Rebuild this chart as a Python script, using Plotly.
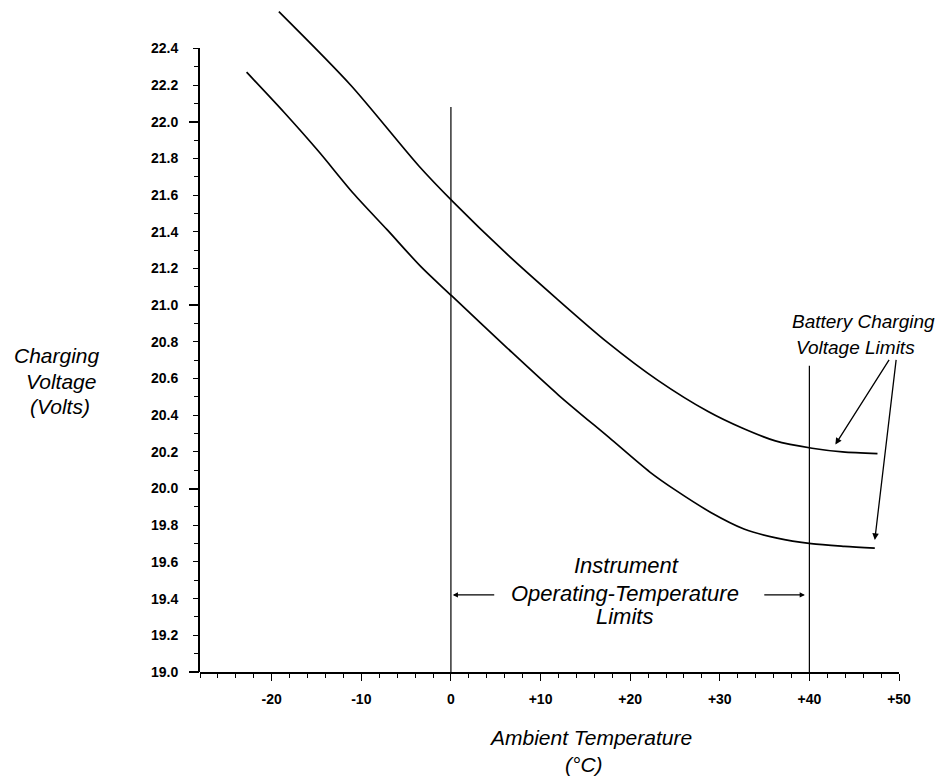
import plotly.graph_objects as go

# ---- data ----
temp_upper = [-19.2, -11.2, -3.6, 0.3, 6.0, 11.7, 17.4, 23.1, 28.7, 32.5, 36.2, 40.3, 43.7, 47.6]
volt_upper = [22.60, 22.20, 21.76, 21.56, 21.29, 21.04, 20.80, 20.59, 20.42, 20.33, 20.26, 20.22, 20.20, 20.19]

temp_lower = [-22.8, -18.6, -14.8, -10.9, -7.1, -3.35, 0.1, 6.2, 12.0, 17.6, 22.2, 25.1, 29.0, 32.7, 36.4, 40.2, 43.9, 47.3]
volt_lower = [22.27, 22.05, 21.84, 21.61, 21.41, 21.21, 21.05, 20.77, 20.51, 20.28, 20.09, 19.99, 19.87, 19.78, 19.73, 19.70, 19.685, 19.675]

op_limits_temp = [0, 40]
op_limits_top = [22.08, 20.67]

x_tick_vals = [-20, -10, 0, 10, 20, 30, 40, 50]
x_tick_text = ["-20", "-10", "0", "+10", "+20", "+30", "+40", "+50"]
y_tick_vals = [19.0, 19.2, 19.4, 19.6, 19.8, 20.0, 20.2, 20.4, 20.6, 20.8, 21.0,
               21.2, 21.4, 21.6, 21.8, 22.0, 22.2, 22.4]
y_tick_text = ["19.0", "19.2", "19.4", "19.6", "19.8", "20.0", "20.2", "20.4", "20.6", "20.8", "21.0",
               "21.2", "21.4", "21.6", "21.8", "22.0", "22.2", "22.4"]
y_minor_vals = [19.1, 19.3, 19.5, 19.7, 19.9, 20.1, 20.3, 20.5, 20.7, 20.9, 21.1,
                21.3, 21.5, 21.7, 21.9, 22.1, 22.3]
y_long_ticks = [19.0, 20.0, 21.0, 22.0]

X_MIN, X_MAX = -28, 50
Y_MIN, Y_AXIS_TOP, Y_MAX = 19.0, 22.4, 22.62

# ---- layout geometry (page has an 8px body margin) ----
OFF = 8
W, H = 944, 775
L, R, T, B = 192, 53, 0, 111
PW, PH = W - L - R, H - T - B


def px_x(p):
    return (p - OFF - L) / PW


def px_y(p):
    return (H - B - (p - OFF)) / PH


FONT = "Liberation Sans, Arial, Helvetica, sans-serif"

fig = go.Figure()

fig.add_trace(go.Scatter(x=temp_upper, y=volt_upper, mode="lines",
                         line=dict(color="black", width=1.7, shape="spline", smoothing=0.8),
                         hoverinfo="skip", showlegend=False))
fig.add_trace(go.Scatter(x=temp_lower, y=volt_lower, mode="lines",
                         line=dict(color="black", width=1.7, shape="spline", smoothing=0.8),
                         hoverinfo="skip", showlegend=False))

for t, top in zip(op_limits_temp, op_limits_top):
    fig.add_trace(go.Scatter(x=[t, t], y=[Y_MIN, top], mode="lines",
                             line=dict(color="black", width=1.2),
                             hoverinfo="skip", showlegend=False))

# empty trace so the labelled axis (y2) gets drawn
fig.add_trace(go.Scatter(x=[None], y=[None], yaxis="y2", mode="lines",
                         hoverinfo="skip", showlegend=False))

annotations = []


def txt(text, x, y, size, xref="x", yref="y"):
    annotations.append(dict(text="<i>" + text + "</i>", x=x, y=y, xref=xref, yref=yref,
                            showarrow=False, xanchor="center", yanchor="middle",
                            font=dict(family=FONT, size=size, color="black")))


# left axis label
txt("Charging", px_x(57), px_y(355), 21, "paper", "paper")
txt("Voltage", px_x(61), px_y(381), 21, "paper", "paper")
txt("(Volts)", px_x(60), px_y(406), 21, "paper", "paper")
# bottom axis label
txt("Ambient Temperature", px_x(590), px_y(738), 21, "paper", "paper")
txt("(°C)", px_x(584), px_y(764), 21, "paper", "paper")
# battery label
txt("Battery Charging", 46.0, 20.91, 19)
txt("Voltage Limits", 45.1, 20.77, 19)
# instrument label
txt("Instrument", 19.6, 19.58, 22)
txt("Operating-Temperature", 19.4, 19.43, 22)
txt("Limits", 19.4, 19.30, 22)


def arrow(x_head, y_head, x_tail, y_tail, size=1.0, head=2):
    annotations.append(dict(x=x_head, y=y_head, ax=x_tail, ay=y_tail,
                            xref="x", yref="y", axref="x", ayref="y", text="",
                            showarrow=True, arrowhead=head, arrowsize=size,
                            arrowwidth=1.3, arrowcolor="black"))


arrow(42.9, 20.24, 49.0, 20.71)
arrow(47.3, 19.72, 49.7, 20.71)
arrow(0.2, 19.42, 5.0, 19.42, size=0.8)
arrow(39.5, 19.42, 34.8, 19.42, size=0.8)

tick_font = dict(family=FONT, size=14, color="black", weight="bold")

fig.update_layout(
    width=W, height=H,
    margin=dict(l=L, r=R, t=T, b=B, autoexpand=False),
    paper_bgcolor="white", plot_bgcolor="rgba(0,0,0,0)",
    annotations=annotations,
    font=dict(family=FONT, color="black"),
    xaxis=dict(range=[X_MIN, X_MAX], showgrid=False, zeroline=False, automargin=False,
               showline=True, linecolor="black", linewidth=1.8, anchor="y",
               tickmode="array", tickvals=x_tick_vals, ticktext=x_tick_text,
               ticks="outside", ticklen=7, tickwidth=1.4, tickcolor="black",
               ticklabelstandoff=6, tickfont=tick_font,
               minor=dict(dtick=2, tick0=0, ticks="outside", ticklen=4, tickwidth=1.2,
                          tickcolor="black", showgrid=False)),
    # data axis: full height so the upper curve can rise above the 22.4 tick;
    # it only carries the long whole-volt ticks
    yaxis=dict(range=[Y_MIN, Y_MAX], domain=[0, 1], showgrid=False, zeroline=False,
               showline=False, anchor="x", automargin=False,
               tickmode="array", tickvals=y_long_ticks, showticklabels=False,
               ticks="outside", ticklen=10, tickwidth=1.5, tickcolor="black"),
    # labelled axis: same scale, ends at the 22.4 tick
    yaxis2=dict(range=[Y_MIN, Y_AXIS_TOP],
                domain=[0, (Y_AXIS_TOP - Y_MIN) / (Y_MAX - Y_MIN)],
                anchor="x", showgrid=False, zeroline=False, automargin=False,
                showline=True, linecolor="black", linewidth=1.8,
                tickmode="array", tickvals=y_tick_vals, ticktext=y_tick_text,
                ticks="outside", ticklen=5, tickwidth=1.4, tickcolor="black",
                ticklabelstandoff=12, tickfont=tick_font,
                minor=dict(tickmode="array", tickvals=y_minor_vals, ticks="outside", ticklen=4,
                           tickwidth=1.2, tickcolor="black", showgrid=False)),
)

fig.write_html("out.html")
